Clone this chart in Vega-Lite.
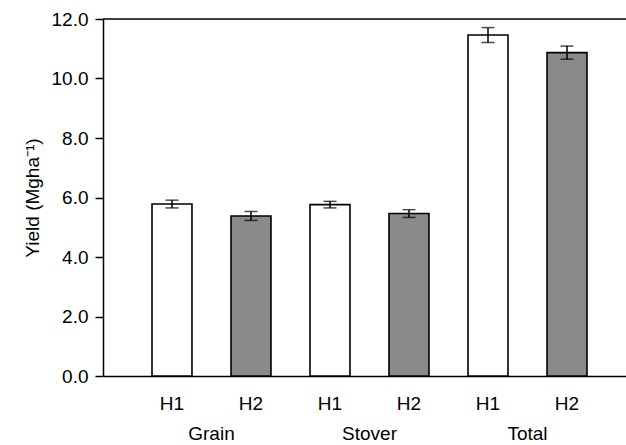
{
  "$schema": "https://vega.github.io/schema/vega-lite/v6.json",
  "autosize": {"type": "none"},
  "width": 523,
  "height": 357,
  "padding": {"left": 103, "top": 19, "right": 0, "bottom": 69},
  "background": "white",
  "config": {
    "view": {"stroke": null},
    "font": "Liberation Sans",
    "axis": {"grid": false, "domainColor": "black", "tickColor": "black", "labelColor": "black", "titleColor": "black", "labelFont": "Liberation Sans", "titleFont": "Liberation Sans"}
  },
  "data": {
    "values": [
      {"group": "Grain", "cultivar": "H1", "yield": 5.78, "lo": 5.65, "hi": 5.91},
      {"group": "Grain", "cultivar": "H2", "yield": 5.38, "lo": 5.23, "hi": 5.53},
      {"group": "Stover", "cultivar": "H1", "yield": 5.76, "lo": 5.65, "hi": 5.87},
      {"group": "Stover", "cultivar": "H2", "yield": 5.46, "lo": 5.33, "hi": 5.59},
      {"group": "Total", "cultivar": "H1", "yield": 11.46, "lo": 11.21, "hi": 11.71},
      {"group": "Total", "cultivar": "H2", "yield": 10.87, "lo": 10.65, "hi": 11.09}
    ]
  },
  "encoding": {
    "x": {
      "field": "group", "type": "nominal", "sort": ["Grain", "Stover", "Total"],
      "scale": {"paddingInner": 0, "paddingOuter": 0.155, "align": 0.602},
      "axis": {"title": null, "ticks": false, "labelAngle": 0, "labelFontSize": 19, "labelPadding": 48, "domainWidth": 1.5, "labelBaseline": "top"}
    },
    "xOffset": {
      "field": "cultivar", "type": "nominal", "sort": ["H1", "H2"],
      "scale": {"paddingInner": 0.494, "paddingOuter": 0.247}
    }
  },
  "layer": [
    {
      "mark": {"type": "bar", "stroke": "black", "strokeWidth": 1.6},
      "encoding": {
        "y": {
          "field": "yield", "type": "quantitative",
          "scale": {"domain": [0, 12], "nice": false},
          "axis": {"values": [0, 2, 4, 6, 8, 10, 12], "format": ".1f", "title": "Yield (Mgha⁻¹)", "titleFontSize": 19, "titleFontWeight": "normal", "titlePadding": 9, "labelFontSize": 19, "labelPadding": 7, "tickSize": 8, "tickWidth": 1.5, "domainWidth": 1.5}
        },
        "fill": {"field": "cultivar", "type": "nominal", "scale": {"domain": ["H1", "H2"], "range": ["white", "#8a8a8a"]}, "legend": null}
      }
    },
    {
      "mark": {"type": "rule", "color": "black", "strokeWidth": 1.5},
      "encoding": {"y": {"field": "lo", "type": "quantitative"}, "y2": {"field": "hi"}}
    },
    {
      "mark": {"type": "tick", "color": "black", "thickness": 1.5, "size": 13},
      "encoding": {"y": {"field": "lo", "type": "quantitative"}}
    },
    {
      "mark": {"type": "tick", "color": "black", "thickness": 1.5, "size": 13},
      "encoding": {"y": {"field": "hi", "type": "quantitative"}}
    },
    {
      "mark": {"type": "text", "baseline": "top", "dy": 19, "fontSize": 19, "color": "black"},
      "encoding": {"y": {"datum": 0}, "text": {"field": "cultivar"}}
    },
    {
      "data": {"values": [{"top": 12}]},
      "mark": {"type": "rule", "color": "black", "strokeWidth": 1.5},
      "encoding": {"y": {"field": "top", "type": "quantitative"}, "x": null, "xOffset": null}
    }
  ]
}
